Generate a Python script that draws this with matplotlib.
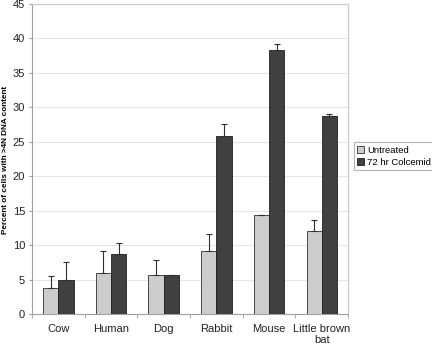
import numpy as np
import matplotlib
matplotlib.use("Agg")
import matplotlib.pyplot as plt

plt.rcParams["font.family"] = ["Liberation Sans", "DejaVu Sans"]

species = ["Cow", "Human", "Dog", "Rabbit", "Mouse", "Little brown\nbat"]
untreated = [3.8, 6.0, 5.6, 9.1, 14.3, 12.1]
untreated_err = [1.7, 3.1, 2.3, 2.5, 0.0, 1.6]
colcemid = [4.9, 8.7, 5.6, 25.8, 38.3, 28.8]
colcemid_err = [2.6, 1.6, 0.1, 1.8, 0.9, 0.2]
series_names = ["Untreated", "72 hr Colcemid"]
yticks = [0, 5, 10, 15, 20, 25, 30, 35, 40, 45]

grey_axis = "#a0a0a0"

fig = plt.figure(figsize=(4.32, 3.46), dpi=100)
ax = fig.add_axes([0.074, 0.0925, 0.732, 0.896])

x = np.arange(len(species))
w = 0.29
err_kw = dict(ecolor="#303030", elinewidth=0.8, capsize=2.2, capthick=0.8)
ax.bar(x - w / 2, untreated, w, color="#cccccc", edgecolor="#303030",
       linewidth=0.6, yerr=[np.zeros(len(x)), untreated_err],
       error_kw=err_kw, label=series_names[0], zorder=3)
ax.bar(x + w / 2, colcemid, w, color="#404040", edgecolor="#202020",
       linewidth=0.6, yerr=[np.zeros(len(x)), colcemid_err],
       error_kw=err_kw, label=series_names[1], zorder=3)

ax.set_xlim(-0.5, len(species) - 0.5)
ax.set_ylim(0, 45)
ax.set_yticks(yticks)
ax.set_yticklabels([str(t) for t in yticks], fontsize=8, color="#222222")
ax.set_xticks(x)
ax.set_xticklabels(species, fontsize=8, color="#222222", linespacing=1.1)
ax.tick_params(axis="x", length=0, pad=7)
ax.tick_params(axis="y", length=2, color=grey_axis, pad=3)
ax.set_xticks(np.arange(len(species) + 1) - 0.5, minor=True)
ax.tick_params(axis="x", which="minor", length=3, color=grey_axis)

ax.yaxis.grid(True, color="#e6e6e6", linewidth=0.8, zorder=0)
ax.set_axisbelow(True)
for side in ["left", "bottom"]:
    ax.spines[side].set_color(grey_axis)
    ax.spines[side].set_linewidth(0.8)
for side in ["right", "top"]:
    ax.spines[side].set_color("#c8c8c8")
    ax.spines[side].set_linewidth(0.8)

ax.set_ylabel("Percent of cells with >4N DNA content", fontsize=5.9,
              fontweight="bold")
ax.yaxis.set_label_coords(-0.073, 0.497)

leg = fig.legend(loc="center left", bbox_to_anchor=(0.819, 0.548),
                 fontsize=6.8, frameon=True, fancybox=False,
                 handlelength=0.7, handleheight=0.7, handletextpad=0.35,
                 borderpad=0.35, labelspacing=0.35, borderaxespad=0)
leg.get_frame().set_edgecolor("#a0a0a0")
leg.get_frame().set_linewidth(0.8)

fig.savefig("out.png", dpi=100)
